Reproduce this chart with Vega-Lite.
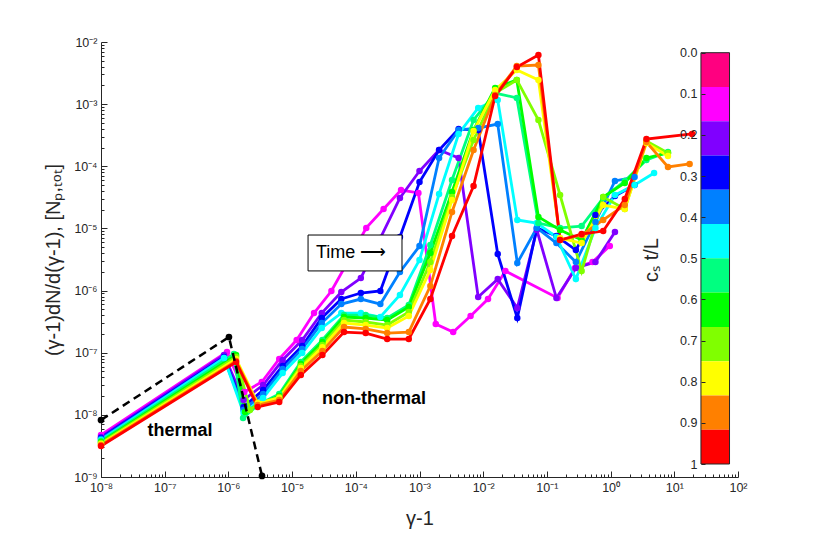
{
  "$schema": "https://vega.github.io/schema/vega-lite/v6.json",
  "width": 637,
  "height": 435,
  "autosize": {"type": "none"},
  "padding": {"left": 101, "top": 42, "right": 75, "bottom": 59},
  "background": "white",
  "config": {
    "font": "Liberation Sans",
    "view": {"stroke": null},
    "axis": {"grid": false, "domainColor": "#262626", "tickColor": "#262626", "labelColor": "#262626", "titleColor": "#262626", "labelFontSize": 12.5, "titleFontSize": 20, "titleFontWeight": "normal", "labelFont": "Liberation Sans", "titleFont": "Liberation Sans"}
  },
  "datasets": {
    "spectra": [
      {"s":"s01","x":1e-8,"y":4.74e-9},{"s":"s01","x":9.51e-7,"y":1.03e-7},{"s":"s01","x":1.78e-6,"y":2.33e-8},{"s":"s01","x":3.34e-6,"y":3.38e-8},{"s":"s01","x":6.28e-6,"y":7.92e-8},{"s":"s01","x":1.18e-5,"y":1.60e-7},{"s":"s01","x":2.21e-5,"y":4.35e-7},{"s":"s01","x":4.14e-5,"y":9.84e-7},{"s":"s01","x":7.76e-5,"y":3.10e-6},{"s":"s01","x":1.46e-4,"y":1.02e-5},{"s":"s01","x":2.73e-4,"y":2.05e-5},{"s":"s01","x":5.13e-4,"y":4.15e-5},{"s":"s01","x":9.62e-4,"y":3.72e-5},{"s":"s01","x":1.80e-3,"y":2.90e-7},{"s":"s01","x":3.38e-3,"y":2.15e-7},{"s":"s01","x":6.34e-3,"y":3.90e-7},{"s":"s01","x":1.19e-2,"y":7.31e-7},{"s":"s01","x":2.23e-2,"y":2.06e-6},{"s":"s01","x":1.47e-1,"y":7.59e-7},{"s":"s01","x":2.76e-1,"y":2.31e-6},{"s":"s01","x":5.19e-1,"y":2.88e-6},{"s":"s01","x":9.72e-1,"y":5.21e-6},
      {"s":"s02","x":1e-8,"y":4.40e-9},{"s":"s02","x":8.53e-7,"y":9.18e-8},{"s":"s02","x":1.73e-6,"y":1.73e-8},{"s":"s02","x":3.51e-6,"y":3.02e-8},{"s":"s02","x":7.11e-6,"y":7.63e-8},{"s":"s02","x":1.44e-5,"y":1.60e-7},{"s":"s02","x":2.92e-5,"y":4.35e-7},{"s":"s02","x":5.92e-5,"y":9.48e-7},{"s":"s02","x":1.20e-4,"y":1.59e-6},{"s":"s02","x":2.43e-4,"y":7.01e-6},{"s":"s02","x":4.93e-4,"y":3.09e-5},{"s":"s02","x":1.00e-3,"y":8.39e-5},{"s":"s02","x":2.03e-3,"y":1.83e-4},{"s":"s02","x":4.11e-3,"y":1.36e-4},{"s":"s02","x":8.34e-3,"y":7.87e-7},{"s":"s02","x":1.69e-2,"y":1.53e-6},{"s":"s02","x":3.43e-2,"y":5.24e-7},{"s":"s02","x":6.95e-2,"y":9.43e-6},{"s":"s02","x":1.41e-1,"y":7.59e-7},{"s":"s02","x":2.85e-1,"y":2.31e-6},{"s":"s02","x":5.78e-1,"y":2.88e-6},{"s":"s02","x":1.17,"y":8.76e-6},
      {"s":"s03","x":1e-8,"y":4.24e-9},{"s":"s03","x":8.53e-7,"y":8.53e-8},{"s":"s03","x":1.73e-6,"y":1.34e-8},{"s":"s03","x":3.51e-6,"y":2.51e-8},{"s":"s03","x":7.11e-6,"y":6.11e-8},{"s":"s03","x":1.44e-5,"y":1.28e-7},{"s":"s03","x":2.92e-5,"y":3.62e-7},{"s":"s03","x":5.92e-5,"y":7.31e-7},{"s":"s03","x":1.20e-4,"y":9.13e-7},{"s":"s03","x":2.43e-4,"y":9.84e-7},{"s":"s03","x":4.93e-4,"y":7.27e-6},{"s":"s03","x":1.00e-3,"y":5.58e-5},{"s":"s03","x":2.03e-3,"y":1.83e-4},{"s":"s03","x":4.11e-3,"y":3.98e-4},{"s":"s03","x":8.34e-3,"y":3.84e-4},{"s":"s03","x":1.69e-2,"y":3.88e-6},{"s":"s03","x":3.43e-2,"y":3.62e-7},{"s":"s03","x":6.95e-2,"y":1.02e-5},{"s":"s03","x":1.41e-1,"y":7.55e-6},{"s":"s03","x":2.85e-1,"y":4.49e-6},{"s":"s03","x":5.78e-1,"y":1.64e-5},{"s":"s03","x":1.17,"y":3.32e-5},{"s":"s03","x":2.38,"y":5.00e-5},
      {"s":"s04","x":1e-8,"y":4.09e-9},{"s":"s04","x":8.53e-7,"y":8.21e-8},{"s":"s04","x":1.73e-6,"y":1.20e-8},{"s":"s04","x":3.51e-6,"y":2.16e-8},{"s":"s04","x":7.11e-6,"y":5.46e-8},{"s":"s04","x":1.44e-5,"y":1.15e-7},{"s":"s04","x":2.92e-5,"y":3.00e-7},{"s":"s04","x":5.92e-5,"y":6.07e-7},{"s":"s04","x":1.20e-4,"y":7.31e-7},{"s":"s04","x":2.43e-4,"y":6.07e-7},{"s":"s04","x":4.93e-4,"y":1.99e-6},{"s":"s04","x":1.00e-3,"y":5.21e-6},{"s":"s04","x":2.03e-3,"y":1.36e-4},{"s":"s04","x":4.11e-3,"y":3.84e-4},{"s":"s04","x":8.34e-3,"y":4.13e-4},{"s":"s04","x":1.69e-2,"y":4.79e-4},{"s":"s04","x":3.43e-2,"y":2.78e-6},{"s":"s04","x":6.95e-2,"y":1.02e-5},{"s":"s04","x":1.41e-1,"y":5.82e-6},{"s":"s04","x":2.85e-1,"y":2.88e-6},{"s":"s04","x":5.78e-1,"y":1.27e-5},{"s":"s04","x":1.17,"y":5.80e-5},{"s":"s04","x":2.38,"y":6.72e-5},
      {"s":"s05","x":1e-8,"y":3.94e-9},{"s":"s05","x":8.53e-7,"y":8.21e-8},{"s":"s05","x":1.73e-6,"y":1.07e-8},{"s":"s05","x":3.51e-6,"y":1.87e-8},{"s":"s05","x":7.11e-6,"y":4.71e-8},{"s":"s05","x":1.44e-5,"y":9.89e-8},{"s":"s05","x":2.92e-5,"y":2.50e-7},{"s":"s05","x":5.92e-5,"y":4.35e-7},{"s":"s05","x":1.20e-4,"y":4.35e-7},{"s":"s05","x":2.43e-4,"y":3.75e-7},{"s":"s05","x":4.93e-4,"y":8.48e-7},{"s":"s05","x":1.00e-3,"y":3.10e-6},{"s":"s05","x":2.03e-3,"y":3.58e-5},{"s":"s05","x":4.11e-3,"y":3.31e-4},{"s":"s05","x":8.34e-3,"y":8.67e-4},{"s":"s05","x":1.69e-2,"y":1.17e-3},{"s":"s05","x":3.43e-2,"y":1.37e-5},{"s":"s05","x":6.95e-2,"y":1.22e-5},{"s":"s05","x":1.41e-1,"y":7.27e-6},{"s":"s05","x":2.85e-1,"y":1.53e-6},{"s":"s05","x":5.78e-1,"y":1.02e-5},{"s":"s05","x":1.17,"y":3.45e-5},{"s":"s05","x":2.38,"y":5.00e-5},{"s":"s05","x":4.82,"y":7.79e-5},
      {"s":"s06","x":1e-8,"y":3.79e-9},{"s":"s06","x":1.22e-6,"y":9.53e-8},{"s":"s06","x":1.70e-6,"y":8.89e-9},{"s":"s06","x":2.88e-6,"y":1.44e-8},{"s":"s06","x":6.28e-6,"y":2.16e-8},{"s":"s06","x":1.37e-5,"y":7.09e-8},{"s":"s06","x":2.99e-5,"y":1.60e-7},{"s":"s06","x":6.53e-5,"y":4.04e-7},{"s":"s06","x":1.43e-4,"y":4.04e-7},{"s":"s06","x":3.11e-4,"y":3.62e-7},{"s":"s06","x":6.79e-4,"y":5.85e-7},{"s":"s06","x":1.48e-3,"y":5.41e-6},{"s":"s06","x":3.24e-3,"y":6.01e-5},{"s":"s06","x":7.06e-3,"y":5.56e-4},{"s":"s06","x":1.54e-2,"y":1.51e-3},{"s":"s06","x":3.37e-2,"y":1.26e-3},{"s":"s06","x":7.36e-2,"y":1.22e-5},{"s":"s06","x":1.61e-1,"y":1.02e-5},{"s":"s06","x":3.51e-1,"y":1.09e-5},{"s":"s06","x":7.66e-1,"y":3.09e-5},{"s":"s06","x":1.67,"y":5.80e-5},{"s":"s06","x":3.65,"y":1.26e-4},{"s":"s06","x":7.96,"y":1.70e-4},
      {"s":"s07","x":1e-8,"y":3.66e-9},{"s":"s07","x":1.32e-6,"y":9.18e-8},{"s":"s07","x":1.82e-6,"y":1.11e-8},{"s":"s07","x":2.88e-6,"y":1.44e-8},{"s":"s07","x":6.28e-6,"y":2.01e-8},{"s":"s07","x":1.37e-5,"y":6.58e-8},{"s":"s07","x":2.99e-5,"y":1.49e-7},{"s":"s07","x":6.53e-5,"y":3.75e-7},{"s":"s07","x":1.43e-4,"y":3.62e-7},{"s":"s07","x":3.11e-4,"y":3.36e-7},{"s":"s07","x":6.79e-4,"y":5.44e-7},{"s":"s07","x":1.48e-3,"y":4.02e-6},{"s":"s07","x":3.24e-3,"y":3.85e-5},{"s":"s07","x":7.06e-3,"y":3.84e-4},{"s":"s07","x":1.54e-2,"y":1.82e-3},{"s":"s07","x":3.37e-2,"y":2.45e-3},{"s":"s07","x":7.36e-2,"y":1.53e-5},{"s":"s07","x":1.61e-1,"y":9.43e-6},{"s":"s07","x":3.51e-1,"y":6.51e-6},{"s":"s07","x":7.66e-1,"y":3.20e-5},{"s":"s07","x":1.67,"y":5.38e-5},{"s":"s07","x":3.65,"y":1.36e-4},{"s":"s07","x":7.96,"y":1.64e-4},
      {"s":"s08","x":1e-8,"y":3.52e-9},{"s":"s08","x":1.32e-6,"y":8.53e-8},{"s":"s08","x":2.18e-6,"y":1.20e-8},{"s":"s08","x":2.88e-6,"y":1.49e-8},{"s":"s08","x":6.28e-6,"y":1.94e-8},{"s":"s08","x":1.37e-5,"y":6.11e-8},{"s":"s08","x":2.99e-5,"y":1.33e-7},{"s":"s08","x":6.53e-5,"y":3.36e-7},{"s":"s08","x":1.43e-4,"y":3.12e-7},{"s":"s08","x":3.11e-4,"y":2.79e-7},{"s":"s08","x":6.79e-4,"y":4.52e-7},{"s":"s08","x":1.48e-3,"y":2.88e-6},{"s":"s08","x":3.24e-3,"y":3.20e-5},{"s":"s08","x":7.06e-3,"y":2.65e-4},{"s":"s08","x":1.54e-2,"y":1.51e-3},{"s":"s08","x":3.37e-2,"y":2.45e-3},{"s":"s08","x":7.36e-2,"y":5.56e-4},{"s":"s08","x":1.61e-1,"y":3.45e-5},{"s":"s08","x":3.51e-1,"y":2.06e-6},{"s":"s08","x":7.66e-1,"y":3.20e-5},{"s":"s08","x":1.67,"y":2.05e-5},{"s":"s08","x":3.65,"y":2.55e-4},{"s":"s08","x":7.96,"y":1.64e-4},
      {"s":"s09","x":1e-8,"y":3.40e-9},{"s":"s09","x":1.32e-6,"y":7.92e-8},{"s":"s09","x":2.88e-6,"y":1.55e-8},{"s":"s09","x":6.28e-6,"y":1.87e-8},{"s":"s09","x":1.37e-5,"y":5.67e-8},{"s":"s09","x":2.99e-5,"y":1.23e-7},{"s":"s09","x":6.53e-5,"y":3.00e-7},{"s":"s09","x":1.43e-4,"y":2.79e-7},{"s":"s09","x":3.11e-4,"y":2.50e-7},{"s":"s09","x":6.79e-4,"y":3.90e-7},{"s":"s09","x":1.48e-3,"y":2.14e-6},{"s":"s09","x":3.24e-3,"y":2.87e-5},{"s":"s09","x":7.06e-3,"y":3.70e-4},{"s":"s09","x":1.54e-2,"y":1.69e-3},{"s":"s09","x":3.37e-2,"y":3.54e-3},{"s":"s09","x":7.36e-2,"y":2.45e-3},{"s":"s09","x":1.61e-1,"y":7.01e-6},{"s":"s09","x":3.51e-1,"y":5.82e-6},{"s":"s09","x":7.66e-1,"y":2.38e-5},{"s":"s09","x":1.67,"y":2.05e-5},{"s":"s09","x":3.65,"y":2.37e-4},{"s":"s09","x":7.96,"y":1.46e-4},
      {"s":"s10","x":1e-8,"y":3.27e-9},{"s":"s10","x":1.32e-6,"y":7.35e-8},{"s":"s10","x":2.88e-6,"y":1.44e-8},{"s":"s10","x":6.28e-6,"y":1.73e-8},{"s":"s10","x":1.37e-5,"y":5.07e-8},{"s":"s10","x":2.99e-5,"y":1.07e-7},{"s":"s10","x":6.53e-5,"y":2.59e-7},{"s":"s10","x":1.43e-4,"y":2.41e-7},{"s":"s10","x":3.11e-4,"y":2.07e-7},{"s":"s10","x":6.79e-4,"y":2.15e-7},{"s":"s10","x":1.48e-3,"y":1.18e-6},{"s":"s10","x":3.24e-3,"y":1.84e-5},{"s":"s10","x":7.06e-3,"y":1.83e-4},{"s":"s10","x":1.54e-2,"y":1.40e-3},{"s":"s10","x":3.37e-2,"y":4.11e-3},{"s":"s10","x":7.36e-2,"y":4.26e-3},{"s":"s10","x":1.61e-1,"y":6.51e-6},{"s":"s10","x":3.51e-1,"y":7.83e-6},{"s":"s10","x":7.66e-1,"y":1.37e-5},{"s":"s10","x":1.67,"y":2.38e-5},{"s":"s10","x":3.65,"y":2.46e-4},{"s":"s10","x":7.96,"y":9.74e-5},{"s":"s10","x":17.4,"y":1.09e-4},
      {"s":"s11","x":1e-8,"y":3.15e-9},{"s":"s11","x":1.32e-6,"y":7.09e-8},{"s":"s11","x":2.88e-6,"y":1.34e-8},{"s":"s11","x":6.28e-6,"y":1.61e-8},{"s":"s11","x":1.37e-5,"y":4.38e-8},{"s":"s11","x":2.99e-5,"y":9.18e-8},{"s":"s11","x":6.53e-5,"y":2.15e-7},{"s":"s11","x":1.43e-4,"y":2.07e-7},{"s":"s11","x":3.11e-4,"y":1.66e-7},{"s":"s11","x":6.79e-4,"y":1.66e-7},{"s":"s11","x":1.48e-3,"y":7.31e-7},{"s":"s11","x":3.24e-3,"y":7.55e-6},{"s":"s11","x":7.06e-3,"y":4.82e-5},{"s":"s11","x":1.54e-2,"y":1.35e-3},{"s":"s11","x":3.37e-2,"y":3.96e-3},{"s":"s11","x":7.36e-2,"y":6.18e-3},{"s":"s11","x":1.61e-1,"y":6.51e-6},{"s":"s11","x":3.51e-1,"y":8.13e-6},{"s":"s11","x":7.66e-1,"y":9.09e-6},{"s":"s11","x":1.67,"y":2.97e-5},{"s":"s11","x":3.65,"y":2.75e-4},{"s":"s11","x":19.0,"y":3.31e-4}
    ],
    "maxwellian": [
      {"x":1e-8,"y":8.26e-9},{"x":1.02e-6,"y":1.79e-7},{"x":3.37e-6,"y":1.04e-9}
    ],
    "bands": [
      {"b":"b01","t0":0,"t1":0.0833},{"b":"b02","t0":0.0833,"t1":0.1667},{"b":"b03","t0":0.1667,"t1":0.25},{"b":"b04","t0":0.25,"t1":0.3333},{"b":"b05","t0":0.3333,"t1":0.4167},{"b":"b06","t0":0.4167,"t1":0.5},{"b":"b07","t0":0.5,"t1":0.5833},{"b":"b08","t0":0.5833,"t1":0.6667},{"b":"b09","t0":0.6667,"t1":0.75},{"b":"b10","t0":0.75,"t1":0.8333},{"b":"b11","t0":0.8333,"t1":0.9167},{"b":"b12","t0":0.9167,"t1":1}
    ]
  },
  "layer": [
    {
      "layer": [
        {
          "data": {"name": "spectra"},
          "mark": {"type": "line", "strokeWidth": 2.8, "point": {"filled": true, "size": 42}},
          "encoding": {
            "x": {"field": "x", "type": "quantitative", "scale": {"type": "log", "domain": [1e-8, 100], "nice": false},
              "axis": {"title": "γ-1", "titlePadding": 12, "labelOverlap": false, "labelFlush": false, "labelPadding": 10,
                "values": [1e-8,2e-8,3e-8,4e-8,5e-8,6e-8,7e-8,8e-8,9e-8,1e-7,2e-7,3e-7,4e-7,5e-7,6e-7,7e-7,8e-7,9e-7,1e-6,2e-6,3e-6,4e-6,5e-6,6e-6,7e-6,8e-6,9e-6,1e-5,2e-5,3e-5,4e-5,5e-5,6e-5,7e-5,8e-5,9e-5,1e-4,2e-4,3e-4,4e-4,5e-4,6e-4,7e-4,8e-4,9e-4,1e-3,2e-3,3e-3,4e-3,5e-3,6e-3,7e-3,8e-3,9e-3,0.01,0.02,0.03,0.04,0.05,0.06,0.07,0.08,0.09,0.1,0.2,0.3,0.4,0.5,0.6,0.7,0.8,0.9,1,2,3,4,5,6,7,8,9,10,20,30,40,50,60,70,80,90,100],
                "labelExpr": "abs(log(datum.value)/LN10 - round(log(datum.value)/LN10)) < 0.01 ? ['10⁻⁸','10⁻⁷','10⁻⁶','10⁻⁵','10⁻⁴','10⁻³','10⁻²','10⁻¹','10⁰','10¹','10²'][round(log(datum.value)/LN10) + 8] : ''",
                "tickSize": {"condition": {"test": "abs(log(datum.value)/LN10 - round(log(datum.value)/LN10)) < 0.01", "value": -6}, "value": -3}}},
            "y": {"field": "y", "type": "quantitative", "scale": {"type": "log", "domain": [1e-9, 0.01], "nice": false},
              "axis": {"title": "(γ-1)dN/d(γ-1), [Nₚ,ₜₒₜ]", "titlePadding": 10, "labelOverlap": false, "labelFlush": false, "labelPadding": 10,
                "values": [1e-9,2e-9,3e-9,4e-9,5e-9,6e-9,7e-9,8e-9,9e-9,1e-8,2e-8,3e-8,4e-8,5e-8,6e-8,7e-8,8e-8,9e-8,1e-7,2e-7,3e-7,4e-7,5e-7,6e-7,7e-7,8e-7,9e-7,1e-6,2e-6,3e-6,4e-6,5e-6,6e-6,7e-6,8e-6,9e-6,1e-5,2e-5,3e-5,4e-5,5e-5,6e-5,7e-5,8e-5,9e-5,1e-4,2e-4,3e-4,4e-4,5e-4,6e-4,7e-4,8e-4,9e-4,1e-3,2e-3,3e-3,4e-3,5e-3,6e-3,7e-3,8e-3,9e-3,0.01],
                "labelExpr": "abs(log(datum.value)/LN10 - round(log(datum.value)/LN10)) < 0.01 ? ['10⁻⁹','10⁻⁸','10⁻⁷','10⁻⁶','10⁻⁵','10⁻⁴','10⁻³','10⁻²'][round(log(datum.value)/LN10) + 9] : ''",
                "tickSize": {"condition": {"test": "abs(log(datum.value)/LN10 - round(log(datum.value)/LN10)) < 0.01", "value": -6}, "value": -3}}},
            "color": {"field": "s", "type": "nominal", "legend": null,
              "scale": {"domain": ["s01","s02","s03","s04","s05","s06","s07","s08","s09","s10","s11"],
                "range": ["#ff00ff","#8000ff","#0000ff","#0080ff","#00ffff","#00ff80","#00ff00","#80ff00","#ffff00","#ff8000","#ff0000"]}}
          }
        },
        {
          "data": {"name": "maxwellian"},
          "mark": {"type": "line", "color": "black", "strokeWidth": 2.5, "strokeDash": [8, 5], "point": {"filled": true, "size": 45, "color": "black"}},
          "encoding": {
            "x": {"field": "x", "type": "quantitative", "scale": {"type": "log"}},
            "y": {"field": "y", "type": "quantitative", "scale": {"type": "log"}}
          }
        },
        {
          "data": {"values": [{}]},
          "mark": {"type": "rect", "fill": "white", "stroke": "black", "strokeWidth": 1},
          "encoding": {
            "x": {"datum": 1.78e-5, "type": "quantitative", "scale": {"type": "log"}},
            "x2": {"datum": 5.31e-4},
            "y": {"datum": 7.83e-6, "type": "quantitative", "scale": {"type": "log"}},
            "y2": {"datum": 2.07e-6}
          }
        },
        {
          "data": {"values": [{}]},
          "mark": {"type": "text", "align": "left", "baseline": "middle", "fontSize": 18, "color": "black"},
          "encoding": {
            "x": {"datum": 2.37e-5, "type": "quantitative", "scale": {"type": "log"}},
            "y": {"datum": 4.02e-6, "type": "quantitative", "scale": {"type": "log"}},
            "text": {"value": "Time ⟶"}
          }
        },
        {
          "data": {"values": [{}]},
          "mark": {"type": "text", "align": "center", "baseline": "middle", "fontSize": 18, "fontWeight": "bold", "color": "black"},
          "encoding": {
            "x": {"datum": 1.74e-7, "type": "quantitative", "scale": {"type": "log"}},
            "y": {"datum": 5.5e-9, "type": "quantitative", "scale": {"type": "log"}},
            "text": {"value": "thermal"}
          }
        },
        {
          "data": {"values": [{}]},
          "mark": {"type": "text", "align": "center", "baseline": "middle", "fontSize": 18, "fontWeight": "bold", "color": "black"},
          "encoding": {
            "x": {"datum": 1.93e-4, "type": "quantitative", "scale": {"type": "log"}},
            "y": {"datum": 1.83e-8, "type": "quantitative", "scale": {"type": "log"}},
            "text": {"value": "non-thermal"}
          }
        }
      ]
    },
    {
      "layer": [
        {
          "data": {"name": "bands"},
          "mark": {"type": "rect"},
          "encoding": {
            "x": {"datum": 26.2, "type": "quantitative", "scale": {"type": "log"}},
            "x2": {"datum": 73.6},
            "y": {"field": "t0", "type": "quantitative", "scale": {"domain": [-0.026, 1.0316], "reverse": true, "nice": false, "zero": false},
              "axis": {"orient": "left", "offset": -600, "domain": false, "zindex": 1, "title": "cₛ t/L", "titlePadding": 18, "labelPadding": 8, "tickSize": -4,
                "values": [0, 0.1, 0.2, 0.3, 0.4, 0.5, 0.6, 0.7, 0.8, 0.9, 1],
                "labelExpr": "datum.value == 1 ? '1' : format(datum.value, '.1f')"}},
            "y2": {"field": "t1"},
            "color": {"field": "b", "type": "nominal", "legend": null,
              "scale": {"domain": ["b01","b02","b03","b04","b05","b06","b07","b08","b09","b10","b11","b12"],
                "range": ["#ff0080","#ff00ff","#8000ff","#0000ff","#0080ff","#00ffff","#00ff80","#00ff00","#80ff00","#ffff00","#ff8000","#ff0000"]}}
          }
        },
        {
          "data": {"values": [{}]},
          "mark": {"type": "rect", "filled": false, "stroke": "#262626", "strokeWidth": 1},
          "encoding": {
            "x": {"datum": 26.2, "type": "quantitative", "scale": {"type": "log"}},
            "x2": {"datum": 73.6},
            "y": {"datum": 0, "type": "quantitative"},
            "y2": {"datum": 1}
          }
        }
      ]
    }
  ],
  "resolve": {"scale": {"y": "independent", "color": "independent"}, "axis": {"y": "independent"}}
}
